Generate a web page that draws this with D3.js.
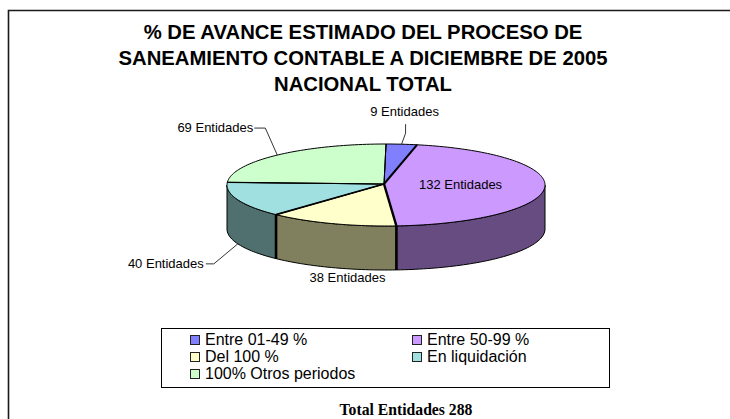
<!DOCTYPE html>
<html>
<head>
<meta charset="utf-8">
<script src="https://cdn.jsdelivr.net/npm/d3@7"></script>
<style>
	html, body { margin: 0; padding: 0; background: #fff; overflow: hidden; }
	svg { display: block; }
</style>
</head>
<body>
<div id="chart"></div>
<script>
// values
const categories = ["Entre 01-49 %", "Entre 50-99 %", "Del 100 %", "En liquidación", "100% Otros periodos"];
const entidades = [9, 132, 38, 40, 69];
const topColors = ["#8080ff", "#cc99ff", "#ffffcc", "#a0e0e0", "#ccffcc"];
const sideColors = ["#4d4d80", "#664c80", "#80805f", "#507070", "#608060"];
const titleLines = [
	"% DE AVANCE ESTIMADO DEL PROCESO DE",
	"SANEAMIENTO CONTABLE A DICIEMBRE DE 2005",
	"NACIONAL TOTAL"
];
const totalLabel = "Total Entidades 288";

const width = 730,
	height = 419;

const cx = 386,
	cy = 185,
	rx = 159,
	ry = 41,
	depth = 44;

const svg = d3
	.select("#chart")
	.append("svg")
	.attr("width", width)
	.attr("height", height)
	.style("font-family", "'Liberation Sans', Arial, sans-serif");

// frame runs off the page on the right and bottom
svg.append("path")
	.attr("d", "M8.5,430V10.5H740")
	.attr("fill", "none")
	.attr("stroke", "#1a1a1a")
	.attr("stroke-width", 1.6);

svg.append("g")
	.selectAll("text")
	.data(titleLines)
	.join("text")
	.attr("x", 363)
	.attr("y", (d, i) => 39 + i * 26)
	.attr("text-anchor", "middle")
	.attr("font-size", 20.3)
	.attr("font-weight", "bold")
	.attr("fill", "#000")
	.text((d) => d);

const slices = d3.pie().sort(null)(entidades);

function project(a, drop) {
	return [cx + rx * Math.sin(a), cy - ry * Math.cos(a) + (drop || 0)];
}

function samples(a0, a1) {
	const n = Math.max(2, Math.ceil((a1 - a0) * 40));
	return d3.range(n + 1).map((i) => a0 + ((a1 - a0) * i) / n);
}

const line = d3.line();

// walls, only the front half of the ellipse is seen
const front = [Math.PI / 2, (3 * Math.PI) / 2];
const walls = svg.append("g");

slices.forEach((s, i) => {
	const a0 = Math.max(s.startAngle, front[0]),
		a1 = Math.min(s.endAngle, front[1]);
	if (a1 <= a0) return;
	const top = samples(a0, a1).map((a) => project(a));
	const bottom = samples(a0, a1)
		.reverse()
		.map((a) => project(a, depth));
	walls.append("path")
		.attr("d", line(top.concat(bottom)) + "Z")
		.attr("fill", sideColors[i])
		.attr("stroke", "#000")
		.attr("stroke-width", 1);
});

// heavy edges where the walls meet
slices.slice(1, 3).forEach((s) => {
	walls.append("path")
		.attr("d", line([project(s.endAngle), project(s.endAngle, depth)]))
		.attr("stroke", "#000")
		.attr("stroke-width", 2.6);
});

const topFace = svg.append("g");

slices.forEach((s, i) => {
	const pts = samples(s.startAngle, s.endAngle).map((a) => project(a));
	topFace.append("path")
		.attr("d", line([[cx - 2, cy - 1]].concat(pts)) + "Z")
		.attr("fill", topColors[i])
		.attr("stroke", "#000")
		.attr("stroke-width", 1)
		.attr("stroke-linejoin", "round");
});

// the radial lines are not all the same weight in the original
const edgeWidths = [2, 2.4, 1.6, 1.2, 1];
slices.forEach((s, i) => {
	topFace.append("path")
		.attr("d", line([[cx - 2, cy - 1], project(s.endAngle)]))
		.attr("stroke", "#000")
		.attr("stroke-width", edgeWidths[i]);
});

const mid = (s) => (s.startAngle + s.endAngle) / 2;
const labels = svg
	.append("g")
	.attr("font-size", 13)
	.attr("fill", "#000");

function leader(from, steps) {
	const pts = [from];
	steps.forEach((st) => pts.push([pts[pts.length - 1][0] + st[0], pts[pts.length - 1][1] + st[1]]));
	labels.append("path")
		.attr("d", line(pts))
		.attr("fill", "none")
		.attr("stroke", "#000")
		.attr("stroke-width", 0.8);
	return pts[pts.length - 1];
}

function label(i, x, y, anchor) {
	labels.append("text")
		.attr("x", x)
		.attr("y", y)
		.attr("text-anchor", anchor)
		.text(entidades[i] + " Entidades");
}

let end = leader(project(mid(slices[0])), [[4, -11], [0, -9]]);
label(0, end[0] - 1, 116, "middle");

const inner = project(mid(slices[1]));
label(1, cx + (inner[0] - cx) * 0.47, 189, "middle");

label(2, 347.5, 282, "middle");

end = leader(project(mid(slices[3]), depth), [[-24, 20], [-8, 0]]);
label(3, end[0] - 2, end[1] + 4, "end");

end = leader(project(mid(slices[4])), [[-12, -27], [-11, 0]]);
label(4, end[0] - 1, end[1] + 4, "end");

// legend
svg.append("rect")
	.attr("x", 161.5)
	.attr("y", 328.5)
	.attr("width", 448)
	.attr("height", 59)
	.attr("fill", "#fff")
	.attr("stroke", "#000")
	.attr("stroke-width", 1);

const legendX = d3.scalePoint().domain([0, 1]).range([190, 412]);
const legendY = d3.scalePoint().domain([0, 1, 2]).range([345, 379]);

const legend = svg
	.append("g")
	.selectAll("g")
	.data(categories)
	.join("g")
	.attr("transform", (d, i) => `translate(${legendX(i % 2)},${legendY(Math.floor(i / 2))})`);

legend.append("rect")
	.attr("x", 0.5)
	.attr("y", -9.5)
	.attr("width", 9)
	.attr("height", 9)
	.attr("fill", (d, i) => topColors[i])
	.attr("stroke", "#222");

legend.append("text")
	.attr("x", 15)
	.attr("font-size", 16)
	.attr("fill", "#000")
	.text((d) => d);

svg.append("text")
	.attr("x", 406)
	.attr("y", 415)
	.attr("text-anchor", "middle")
	.attr("font-family", "'Liberation Serif', 'Times New Roman', serif")
	.attr("font-weight", "bold")
	.attr("font-size", 15.7)
	.attr("fill", "#000")
	.text(totalLabel);
</script>
</body>
</html>
